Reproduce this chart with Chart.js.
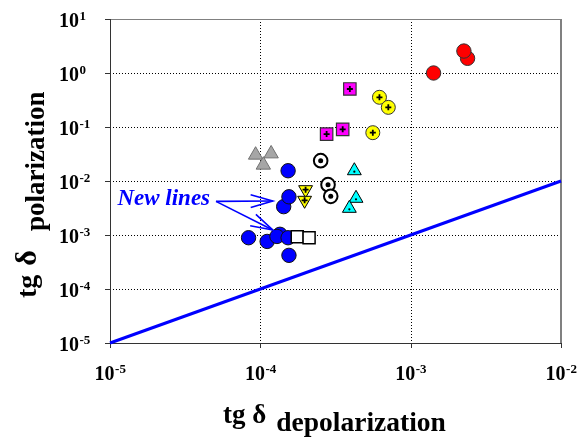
<!DOCTYPE html>
<html><head><meta charset="utf-8">
<script src="https://cdn.jsdelivr.net/npm/chart.js@4"></script>
<style>html,body{margin:0;padding:0;background:#fff}canvas{display:block}</style>
</head><body>
<canvas id="c" width="587" height="438"></canvas>
<script>
// ---- tick labels ----
const xTickValues = [1e-5, 1e-4, 1e-3, 1e-2];
const xTickExponents = ['-5', '-4', '-3', '-2'];
const yTickValues = [1e-5, 1e-4, 1e-3, 1e-2, 1e-1, 1e0, 1e1];
const yTickExponents = ['-5', '-4', '-3', '-2', '-1', '0', '1'];

// ---- axis titles ----
const xTitleMain = 'tg δ', xTitleSub = 'depolarization';
const yTitleMain1 = 'tg', yTitleMain2 = 'δ', yTitleSub = 'polarization';
const noteText = 'New lines';

// ---- series (x = tg δ depolarization, y = tg δ polarization) ----
const openSquaresX = [1.76e-4, 2.11e-4];
const openSquaresY = [9.3e-4, 8.9e-4];

const blueCirclesX = [8.35e-5, 1.11e-4, 1.35e-4, 1.29e-4, 1.53e-4, 1.55e-4, 1.53e-4, 1.43e-4, 1.55e-4];
const blueCirclesY = [8.9e-4, 7.6e-4, 1.03e-3, 9.4e-4, 8.9e-4, 4.2e-4, 0.0155, 0.00335, 0.0051];

const redCirclesX = [1.42e-3, 2.39e-3, 2.26e-3];
const redCirclesY = [1.0, 1.87, 2.55];

const magentaSquaresX = [3.94e-4, 2.76e-4, 3.53e-4];
const magentaSquaresY = [0.506, 0.074, 0.0906];

const yellowCirclesX = [6.2e-4, 7.1e-4, 5.6e-4];
const yellowCirclesY = [0.355, 0.231, 0.0785];

const grayTrianglesX = [9.3e-5, 1.18e-4, 1.047e-4];
const grayTrianglesY = [0.0303, 0.032, 0.0198];

const ringCirclesX = [2.52e-4, 2.82e-4, 2.94e-4];
const ringCirclesY = [0.0238, 0.00855, 0.0052];

const cyanTrianglesX = [4.22e-4, 4.33e-4, 3.91e-4];
const cyanTrianglesY = [0.0155, 0.00478, 0.00312];

const yellowDownX = [2.0e-4, 1.97e-4];
const yellowDownY = [0.0069, 0.00439];

const equalityLineX = [1e-5, 1e-2];
const equalityLineY = [1e-5, 1e-2];

// annotation anchors (data coordinates)
const noteAnchor = {x: 4.63e-5, y: 3.6e-3};
const arrowStart = {x: 5.07e-5, y: 4.2e-3};
const arrowTips = [{x: 1.21e-4, y: 4.27e-3}, {x: 1.21e-4, y: 1.24e-3}];

const pts = (xs, ys) => xs.map((v, i) => ({x: v, y: ys[i]}));

const datasets = [
  {label: 'open squares', data: pts(openSquaresX, openSquaresY), pointStyle: 'rect', pointRadius: 8.5,
   backgroundColor: '#ffffff', borderColor: '#000000', pointBorderWidth: 1.5},
  {label: 'ring circles', data: pts(ringCirclesX, ringCirclesY), pointStyle: 'circle', pointRadius: 6.8,
   backgroundColor: '#ffffff', borderColor: '#000000', pointBorderWidth: 2, inner: 'dot'},
  {label: 'yellow down', data: pts(yellowDownX, yellowDownY), pointStyle: 'triangle', pointRotation: 180, pointRadius: 8,
   backgroundColor: '#ffff00', borderColor: '#000000', pointBorderWidth: 1, inner: 'plus'},
  {label: 'cyan triangles', data: pts(cyanTrianglesX, cyanTrianglesY), pointStyle: 'triangle', pointRadius: 8,
   backgroundColor: '#00ffff', borderColor: '#000000', pointBorderWidth: 1, inner: 'smalldot'},
  {label: 'gray triangles', data: pts(grayTrianglesX, grayTrianglesY), pointStyle: 'triangle', pointRadius: 8.3,
   backgroundColor: '#a6a6a6', borderColor: '#707070', pointBorderWidth: 1},
  {label: 'magenta squares', data: pts(magentaSquaresX, magentaSquaresY), pointStyle: 'rect', pointRadius: 8.8,
   backgroundColor: '#ff00ff', borderColor: '#333333', pointBorderWidth: 1.2, inner: 'plus'},
  {label: 'yellow circles', data: pts(yellowCirclesX, yellowCirclesY), pointStyle: 'circle', pointRadius: 7,
   backgroundColor: '#ffff00', borderColor: '#333333', pointBorderWidth: 1, inner: 'plus'},
  {label: 'red circles', data: pts(redCirclesX, redCirclesY), pointStyle: 'circle', pointRadius: 7.2,
   backgroundColor: '#ff0000', borderColor: '#333333', pointBorderWidth: 1},
  {label: 'blue circles', data: pts(blueCirclesX, blueCirclesY), pointStyle: 'circle', pointRadius: 7.2,
   backgroundColor: '#0000ff', borderColor: '#111111', pointBorderWidth: 1},
  {type: 'line', label: 'equality', data: pts(equalityLineX, equalityLineY), borderColor: '#0000ff',
   borderWidth: 3, pointRadius: 0, fill: false, clip: 4},
];

const SERIF = '"Liberation Serif", "Times New Roman", serif';

const deco = {
  id: 'deco',
  beforeDatasetsDraw(chart) {
    const {ctx, chartArea: a, scales: {x, y}} = chart;
    ctx.save();
    // dotted grid
    ctx.strokeStyle = '#000'; ctx.lineWidth = 1; ctx.setLineDash([1, 2]);
    yTickValues.forEach(v => {
      const py = Math.round(y.getPixelForValue(v)) + 0.5;
      if (py > a.top + 2 && py < a.bottom - 2) {
        ctx.beginPath(); ctx.moveTo(a.left, py); ctx.lineTo(a.right, py); ctx.stroke();
      }
    });
    xTickValues.forEach(v => {
      const px = Math.round(x.getPixelForValue(v)) + 0.5;
      if (px > a.left + 2 && px < a.right - 2) {
        ctx.beginPath(); ctx.moveTo(px, a.top); ctx.lineTo(px, a.bottom); ctx.stroke();
      }
    });
    ctx.setLineDash([]);
    // ticks
    ctx.strokeStyle = '#333'; ctx.lineWidth = 1;
    yTickValues.forEach(v => {
      const py = Math.round(y.getPixelForValue(v)) + 0.5;
      ctx.beginPath(); ctx.moveTo(a.left - 5, py); ctx.lineTo(a.left, py); ctx.stroke();
    });
    xTickValues.forEach(v => {
      const px = Math.round(x.getPixelForValue(v)) + 0.5;
      ctx.beginPath(); ctx.moveTo(px, a.bottom); ctx.lineTo(px, a.bottom + 5); ctx.stroke();
    });
    // frame
    ctx.strokeStyle = '#808080'; ctx.lineWidth = 1;
    ctx.beginPath(); ctx.moveTo(a.left, a.top + 0.5); ctx.lineTo(a.right, a.top + 0.5); ctx.stroke();
    ctx.lineWidth = 2;
    ctx.beginPath(); ctx.moveTo(a.right, a.top); ctx.lineTo(a.right, a.bottom); ctx.stroke();
    ctx.strokeStyle = '#333'; ctx.lineWidth = 1;
    ctx.beginPath(); ctx.moveTo(a.left + 0.5, a.top); ctx.lineTo(a.left + 0.5, a.bottom + 0.5);
    ctx.lineTo(a.right, a.bottom + 0.5); ctx.stroke();
    ctx.restore();
  },
  afterDatasetsDraw(chart) {
    const {ctx} = chart;
    ctx.save();
    chart.data.datasets.forEach((ds, i) => {
      if (!ds.inner) return;
      chart.getDatasetMeta(i).data.forEach(el => {
        const cx = el.x, cy = el.y;
        ctx.fillStyle = '#000'; ctx.strokeStyle = '#000';
        if (ds.inner === 'plus') {
          ctx.lineWidth = 1.8;
          ctx.beginPath();
          ctx.moveTo(cx - 3, cy); ctx.lineTo(cx + 3, cy);
          ctx.moveTo(cx, cy - 3); ctx.lineTo(cx, cy + 3);
          ctx.stroke();
        } else if (ds.inner === 'dot') {
          ctx.beginPath(); ctx.arc(cx, cy, 2.5, 0, Math.PI * 2); ctx.fill();
        } else if (ds.inner === 'smalldot') {
          ctx.beginPath(); ctx.arc(cx, cy + 1, 1.1, 0, Math.PI * 2); ctx.fill();
        }
      });
    });
    ctx.restore();
  },
  afterDraw(chart) {
    const {ctx, chartArea: a, scales: {x, y}} = chart;
    ctx.save();
    ctx.fillStyle = '#000';
    ctx.textBaseline = 'alphabetic';
    // y tick labels
    yTickValues.forEach((v, i) => {
      const py = y.getPixelForValue(v);
      ctx.font = 'bold 20px ' + SERIF; ctx.textAlign = 'left';
      ctx.fillText('10', 59, py + 8);
      const w = ctx.measureText('10').width;
      ctx.font = 'bold 13px ' + SERIF;
      ctx.fillText(yTickExponents[i], 59 + w + 0.5, py + 1);
    });
    // x tick labels
    xTickValues.forEach((v, i) => {
      const px = x.getPixelForValue(v);
      ctx.font = 'bold 20px ' + SERIF; ctx.textAlign = 'left';
      const w1 = ctx.measureText('10').width;
      ctx.font = 'bold 13px ' + SERIF;
      const w2 = ctx.measureText(xTickExponents[i]).width;
      const sx = px - (w1 + w2) / 2;
      ctx.font = 'bold 20px ' + SERIF;
      ctx.fillText('10', sx, a.bottom + 37);
      ctx.font = 'bold 13px ' + SERIF;
      ctx.fillText(xTickExponents[i], sx + w1 + 0.5, a.bottom + 30);
    });
    // x title
    ctx.textAlign = 'left';
    ctx.font = 'bold 27px ' + SERIF;
    ctx.fillText(xTitleMain, 223, 423);
    const wm = ctx.measureText(xTitleMain).width;
    ctx.font = 'bold 27.5px ' + SERIF;
    ctx.fillText(xTitleSub, 223 + wm + 10, 431);
    // y title (rotated)
    ctx.save();
    ctx.rotate(-Math.PI / 2);
    ctx.font = 'bold 28px ' + SERIF;
    ctx.fillText(yTitleMain1, -298, 36);
    const wt = ctx.measureText(yTitleMain1 + ' ').width;
    ctx.font = 'bold 30px ' + SERIF;
    ctx.fillText(yTitleMain2, -298 + wt + 2, 36);
    ctx.font = 'bold 27px ' + SERIF;
    ctx.fillText(yTitleSub, -231, 44);
    ctx.restore();
    // annotation
    ctx.fillStyle = '#0000ff'; ctx.strokeStyle = '#0000ff';
    ctx.font = 'italic bold 23px ' + SERIF; ctx.textAlign = 'right';
    ctx.fillText(noteText, x.getPixelForValue(noteAnchor.x), y.getPixelForValue(noteAnchor.y));
    const sx = x.getPixelForValue(arrowStart.x), sy = y.getPixelForValue(arrowStart.y);
    ctx.lineWidth = 1.6;
    arrowTips.forEach(t => {
      const tx = x.getPixelForValue(t.x), ty = y.getPixelForValue(t.y);
      const ang = Math.atan2(ty - sy, tx - sx);
      ctx.beginPath(); ctx.moveTo(sx, sy); ctx.lineTo(tx, ty); ctx.stroke();
      const L = 23, h = 0.28;
      ctx.beginPath();
      ctx.moveTo(tx + L * Math.cos(ang + Math.PI - h), ty + L * Math.sin(ang + Math.PI - h));
      ctx.lineTo(tx, ty);
      ctx.lineTo(tx + L * Math.cos(ang + Math.PI + h), ty + L * Math.sin(ang + Math.PI + h));
      ctx.stroke();
    });
    ctx.restore();
  }
};

new Chart(document.getElementById('c'), {
  type: 'scatter',
  data: {datasets},
  options: {
    responsive: false,
    animation: false,
    layout: {padding: {left: 110, top: 19, right: 26, bottom: 95}},
    plugins: {legend: {display: false}, tooltip: {enabled: false}},
    events: [],
    scales: {
      x: {type: 'logarithmic', min: 1e-5, max: 1e-2, display: false},
      y: {type: 'logarithmic', min: 1e-5, max: 1e1, display: false}
    }
  },
  plugins: [deco]
});
</script>
</body></html>
